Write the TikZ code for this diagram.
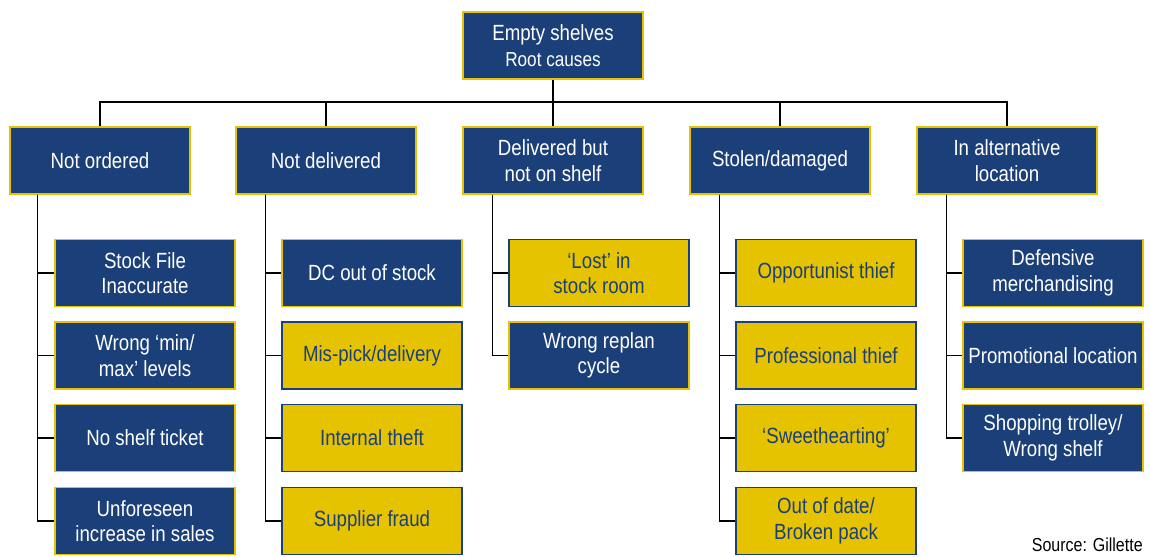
\documentclass[tikz,border=0pt]{standalone}
\usepackage{fontspec}
\setmainfont{Liberation Sans}[FakeStretch=0.85]
\usepackage{tikz}
\definecolor{boxblue}{HTML}{1B3F78}
\definecolor{boxyellow}{HTML}{E6C300}
\tikzstyle{blue-node}=[fill=boxblue,draw=boxyellow,line width=0.8pt,text=white,minimum width=36mm,minimum height=13.4mm,inner sep=0pt,align=center,font=\fontsize{12.5}{14.5}\selectfont]
\tikzstyle{yellow-node}=[blue-node,fill=boxyellow,draw=boxblue,text=boxblue]
\tikzstyle{black-line}=[draw=black,line width=0.7pt]

\begin{document}
\begin{tikzpicture}[x=0.2mm,y=-0.2mm]
	\useasboundingbox (0,0) rectangle (1150,556);
	\begin{scope}
	\node (root)[blue-node] at (553,45.5) {Empty shelves\\{\fontsize{11.5}{13}\selectfont Root causes}};
	
	\node (n1)[blue-node] at (100,160.5) {Not ordered};
	\node (n2)[blue-node] at (326,160.5) {Not delivered};
	\node (n3)[blue-node] at (553,160.5) {Delivered but\\not on shelf};
	\node (n4)[blue-node] at (780,160.5) {Stolen/damaged};
	\node (n5)[blue-node] at (1007,160.5) {In alternative\\location};
	
	\node (c11)[blue-node] at (145,273) {Stock File\\Inaccurate};
	\node (c12)[blue-node] at (145,355.5) {Wrong `min/\\max' levels};
	\node (c13)[blue-node] at (145,438) {No shelf ticket};
	\node (c14)[blue-node] at (145,521) {Unforeseen\\increase in sales};
	
	\node (c21)[blue-node] at (372,273) {DC out of stock};
	\node (c22)[yellow-node] at (372,355.5) {Mis-pick/delivery};
	\node (c23)[yellow-node] at (372,438) {Internal theft};
	\node (c24)[yellow-node] at (372,521) {Supplier fraud};
	
	\node (c31)[yellow-node] at (599,273) {`Lost' in\\stock room};
	\node (c32)[blue-node] at (599,355.5) {Wrong replan\\cycle};
	
	\node (c41)[yellow-node] at (826,273) {Opportunist thief};
	\node (c42)[yellow-node] at (826,355.5) {Professional thief};
	\node (c43)[yellow-node] at (826,438) {`Sweethearting'};
	\node (c44)[yellow-node] at (826,521) {Out of date/\\Broken pack};
	
	\node (c51)[blue-node] at (1053,273) {Defensive\\merchandising};
	\node (c52)[blue-node] at (1053,355.5) {Promotional location};
	\node (c53)[blue-node] at (1053,438) {Shopping trolley/\\Wrong shelf};
	
	\node (src)[anchor=south east,inner sep=0pt,font=\fontsize{10.7}{12}\selectfont] at (1143,552) {Source: Gillette};
	\coordinate (bus) at (553,102);
	\end{scope}
	
	\begin{scope}[every path/.style=black-line]
	\draw (root.south) -- (bus);
	\foreach \p in {n1,n2,n3,n4,n5}
		\draw (\p.north) |- (bus);
	\foreach \c in {c11,c12,c13,c14}
		\draw ([xshift=5.6mm]n1.south west) |- (\c.west);
	\foreach \c in {c21,c22,c23,c24}
		\draw ([xshift=6mm]n2.south west) |- (\c.west);
	\foreach \c in {c31,c32}
		\draw ([xshift=6mm]n3.south west) |- (\c.west);
	\foreach \c in {c41,c42,c43,c44}
		\draw ([xshift=6mm]n4.south west) |- (\c.west);
	\foreach \c in {c51,c52,c53}
		\draw ([xshift=6mm]n5.south west) |- (\c.west);
	\end{scope}
\end{tikzpicture}
\end{document}
